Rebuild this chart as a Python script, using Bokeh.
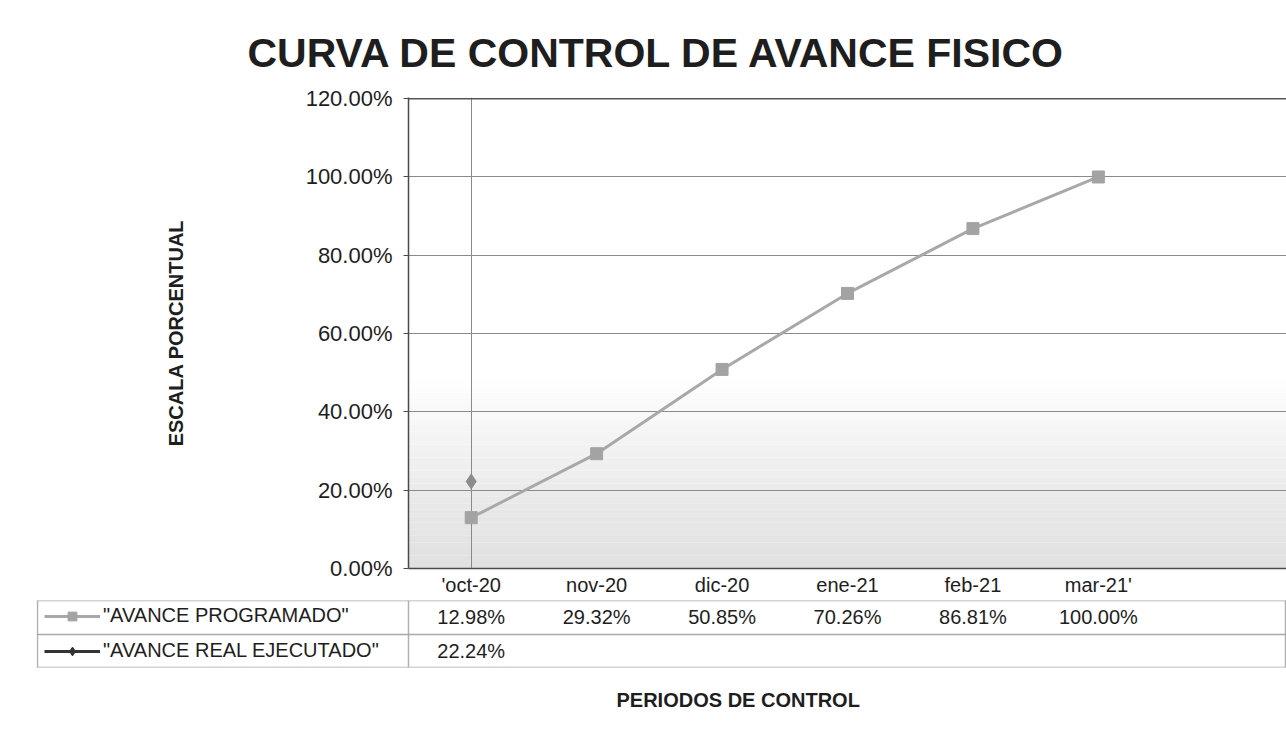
from bokeh.plotting import figure
from bokeh.models import (Range1d, FixedTicker, Title, Legend, LegendItem,
                          BoxAnnotation, Grid, Span)
from bokeh.embed import file_html
from bokeh.resources import INLINE
from bokeh.core.properties import value

# ---------------- data ----------------
periods = ["'oct-20", "nov-20", "dic-20", "ene-21", "feb-21", "mar-21'"]
programado = [12.98, 29.32, 50.85, 70.26, 86.81, 100.00]
real = [22.24]
y_ticks = [0, 20, 40, 60, 80, 100, 120]
n_slots = 7
label_prog = '"AVANCE PROGRAMADO"'
label_real = '"AVANCE REAL EJECUTADO"'
title_text = "CURVA DE CONTROL DE AVANCE FISICO"
y_title = "ESCALA PORCENTUAL"
x_title = "PERIODOS DE CONTROL"

# ---------------- styling / layout ----------------
FONT = "Liberation Sans"
W = 1286
MAIN_LEFT = 408
TABLE_LEFT = 36
TXT = "#1e1e1e"

xs = [i + 0.5 for i in range(len(periods))]

p = figure(width=W, height=600, x_range=Range1d(0, n_slots),
           y_range=Range1d(0, y_ticks[-1] * 1.0025),
           output_backend="svg", toolbar_location=None,
           min_border_left=MAIN_LEFT, min_border_right=0, min_border_top=97,
           min_border_bottom=32)
p.outline_line_color = None
p.background_fill_color = "white"
p.border_fill_color = "white"

p.add_layout(Title(text=title_text, align="left", offset=-161, standoff=44,
                   text_font=FONT, text_font_size="41px", text_font_style="bold",
                   text_color=TXT), "above")

# soft grey gradient at the bottom of the plot area
n_b = 30
g_top = 50.0
for k in range(n_b):
    lo = g_top * k / n_b
    hi = g_top * (k + 1) / n_b
    t = k / (n_b - 1)
    c = int(round(225 + (255 - 225) * t ** 1.2))
    p.add_layout(BoxAnnotation(bottom=lo, top=hi, fill_color=f"#{c:02x}{c:02x}{c:02x}",
                               fill_alpha=1, line_color=None, level="image"))

# axes
p.yaxis.ticker = FixedTicker(ticks=y_ticks)
p.yaxis.major_label_overrides = {t: f"{t:.2f}%" for t in y_ticks}
p.yaxis.axis_line_color = "#4a4a4a"
p.yaxis.axis_line_width = 1.5
p.yaxis.major_tick_out = 5
p.yaxis.major_tick_in = 0
p.yaxis.major_tick_line_color = "#4a4a4a"
p.yaxis.minor_tick_line_color = None
p.yaxis.major_label_standoff = 11
p.yaxis.major_label_text_font = FONT
p.yaxis.major_label_text_font_size = "22px"
p.yaxis.major_label_text_color = TXT
p.yaxis.axis_label = y_title
p.yaxis.axis_label_text_font = FONT
p.yaxis.axis_label_text_font_size = "20px"
p.yaxis.axis_label_text_font_style = "bold"
p.yaxis.axis_label_text_color = TXT
p.yaxis.axis_label_standoff = 116

p.xaxis.ticker = FixedTicker(ticks=xs)
p.xaxis.major_label_overrides = {x: lab for x, lab in zip(xs, periods)}
p.xaxis.axis_line_color = "#4a4a4a"
p.xaxis.axis_line_width = 1.5
p.xaxis.major_tick_out = 0
p.xaxis.major_tick_in = 0
p.xaxis.minor_tick_line_color = None
p.xaxis.major_label_standoff = 5
p.xaxis.major_label_text_font = FONT
p.xaxis.major_label_text_font_size = "20px"
p.xaxis.major_label_text_color = TXT

p.ygrid.ticker = FixedTicker(ticks=y_ticks)
p.ygrid.grid_line_color = "#8a8a8a"
p.ygrid.grid_line_width = 1
p.xgrid.ticker = FixedTicker(ticks=xs[:1])
p.xgrid.grid_line_color = "#8a8a8a"
p.xgrid.grid_line_width = 1
p.add_layout(Span(location=y_ticks[-1], dimension="width", line_color="#555555",
                  line_width=1.5))

# series
p.line(xs, programado, line_color="#a8a8a8", line_width=3)
p.scatter(xs, programado, marker="square", size=12, fill_color="#a3a3a3",
          line_color="#a3a3a3")
p.scatter(xs[:len(real)], real, marker="diamond", size=15, fill_color="#8c8c8c",
          line_color="#8c8c8c")

# ---------------- data table below ----------------
unit = (W - MAIN_LEFT) / n_slots
x_start = -(MAIN_LEFT - TABLE_LEFT) / unit

p2 = figure(width=W, height=130, x_range=Range1d(x_start, n_slots), y_range=Range1d(0, 2),
            output_backend="svg", toolbar_location=None,
            x_axis_location=None, y_axis_location=None,
            min_border_left=TABLE_LEFT, min_border_right=0, min_border_top=0,
            min_border_bottom=62)
p2.outline_line_color = None
p2.background_fill_color = "white"
p2.border_fill_color = "white"
p2.center = [r for r in p2.center if not isinstance(r, Grid)]
p2.add_layout(Grid(dimension=0, ticker=FixedTicker(ticks=[x_start + 0.006, 0, n_slots - 0.006]),
                   grid_line_color="#b0b0b0", grid_line_width=1.5))
p2.add_layout(Grid(dimension=1, ticker=FixedTicker(ticks=[0.012, 1, 1.988]),
                   grid_line_color="#a8a8a8", grid_line_width=1.5))

prog_labels = [f"{v:.2f}%" for v in programado]
real_labels = [f"{v:.2f}%" for v in real]
p2.text(x=xs, y=[1.5] * len(xs), text=prog_labels, text_font=value(FONT),
        text_font_size="20px", text_align="center", text_baseline="middle",
        text_color=TXT)
p2.text(x=xs[:len(real)], y=[0.5] * len(real), text=real_labels, text_font=value(FONT),
        text_font_size="20px", text_align="center", text_baseline="middle",
        text_color=TXT)

# legend swatches (renderers kept out of view; only their legend glyphs show)
off = [x_start - 10]
r1 = p2.line(x=off, y=[-10], line_color="#a8a8a8", line_width=3)
r1m = p2.scatter(x=off, y=[-10], marker="square", size=10, fill_color="#a3a3a3",
                 line_color="#a3a3a3")
r2 = p2.line(x=off, y=[-10], line_color="#333333", line_width=3)
r2m = p2.scatter(x=off, y=[-10], marker="diamond", size=12, fill_color="#333333",
                 line_color="#333333")
legend = Legend(items=[LegendItem(label=label_prog, renderers=[r1, r1m]),
                       LegendItem(label=label_real, renderers=[r2, r2m])],
                location=(8, 5), orientation="vertical", glyph_width=56,
                glyph_height=22, label_height=22, spacing=12, padding=0, margin=0,
                label_standoff=3, border_line_color=None, background_fill_alpha=0,
                label_text_font=FONT, label_text_font_size="20px",
                label_text_color=TXT)
p2.add_layout(legend)

p2.add_layout(Title(text=x_title, align="left", offset=580, standoff=39, text_font=FONT,
                    text_font_size="20px", text_font_style="bold", text_color=TXT),
              "below")

open("out.html", "w").write(file_html([p, p2], INLINE))
